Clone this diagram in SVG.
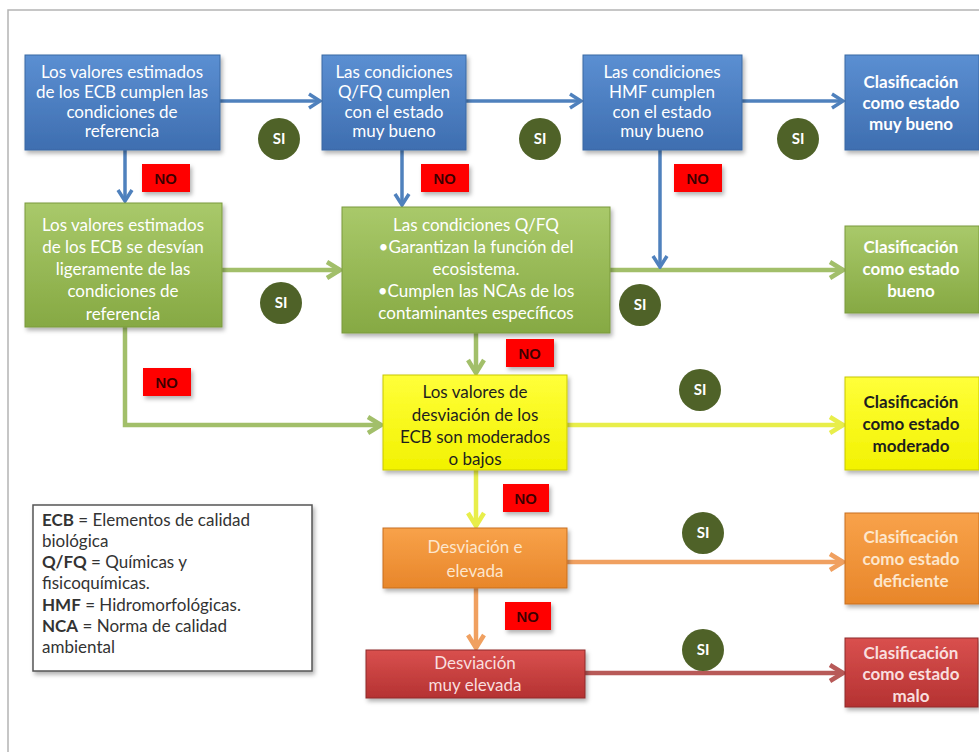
<svg xmlns="http://www.w3.org/2000/svg" width="979" height="752" viewBox="0 0 979 752">
<style>
.t{font-family:Lato,"Liberation Sans",sans-serif;font-size:17px;text-anchor:middle}
.w{fill:#ffffff}
.b{font-weight:bold}
.dk{fill:#1e1e1e}
.pe{fill:#fde6cc}
.pk{fill:#f9dede}
.si circle{fill:#4f6228}
.si text{font-family:Lato,"Liberation Sans",sans-serif;font-size:15px;font-weight:bold;fill:#ffffff;text-anchor:middle}
.no rect{fill:#ff0000}
.no text{font-family:"Liberation Sans",Arial,sans-serif;font-size:15px;font-weight:bold;fill:#3a0000;text-anchor:middle}
.lg{font-family:Lato,"Liberation Sans",sans-serif;font-size:17px;fill:#333333}
.cb{fill:none;stroke:#4f81bd;stroke-width:3.5}
.cg{fill:none;stroke:#a2bf6a;stroke-width:4.5}
.cy{fill:none;stroke:#e8ee4a;stroke-width:4.5}
.co{fill:none;stroke:#f0a060;stroke-width:4.5}
.cr{fill:none;stroke:#b85a58;stroke-width:4.5}
</style>
<defs>
<filter id="sh" x="-10%" y="-10%" width="130%" height="140%"><feDropShadow dx="2" dy="3" stdDeviation="2" flood-color="#000" flood-opacity="0.3"/></filter>
<linearGradient id="gB" x1="0" y1="0" x2="0" y2="1"><stop offset="0" stop-color="#5b8fd2"/><stop offset="1" stop-color="#3e6eb0"/></linearGradient>
<linearGradient id="gG" x1="0" y1="0" x2="0" y2="1"><stop offset="0" stop-color="#a9c96a"/><stop offset="1" stop-color="#86a943"/></linearGradient>
<linearGradient id="gY" x1="0" y1="0" x2="0" y2="1"><stop offset="0" stop-color="#ffff3a"/><stop offset="1" stop-color="#f2f200"/></linearGradient>
<linearGradient id="gO" x1="0" y1="0" x2="0" y2="1"><stop offset="0" stop-color="#f8a24a"/><stop offset="1" stop-color="#e8862a"/></linearGradient>
<linearGradient id="gR" x1="0" y1="0" x2="0" y2="1"><stop offset="0" stop-color="#d9504e"/><stop offset="1" stop-color="#b53232"/></linearGradient>
<marker id="mB" markerUnits="userSpaceOnUse" markerWidth="16" markerHeight="18" viewBox="0 0 16 18" refX="14" refY="9" orient="auto"><path d="M3,2 L14,9 L3,16" fill="none" stroke="#4f81bd" stroke-width="3.5"/></marker>
<marker id="mG" markerUnits="userSpaceOnUse" markerWidth="18" markerHeight="20" viewBox="0 0 18 20" refX="16" refY="10" orient="auto"><path d="M3,2 L16,10 L3,18" fill="none" stroke="#a2bf6a" stroke-width="4.5"/></marker>
<marker id="mY" markerUnits="userSpaceOnUse" markerWidth="18" markerHeight="20" viewBox="0 0 18 20" refX="16" refY="10" orient="auto"><path d="M3,2 L16,10 L3,18" fill="none" stroke="#e8ee4a" stroke-width="4.5"/></marker>
<marker id="mO" markerUnits="userSpaceOnUse" markerWidth="18" markerHeight="20" viewBox="0 0 18 20" refX="16" refY="10" orient="auto"><path d="M3,2 L16,10 L3,18" fill="none" stroke="#f0a060" stroke-width="4.5"/></marker>
<marker id="mR" markerUnits="userSpaceOnUse" markerWidth="18" markerHeight="20" viewBox="0 0 18 20" refX="16" refY="10" orient="auto"><path d="M3,2 L16,10 L3,18" fill="none" stroke="#b85a58" stroke-width="4.5"/></marker>
</defs>
<rect x="0" y="0" width="979" height="752" fill="#ffffff"/>
<path d="M8,752 V10 H979" fill="none" stroke="#b4b4b4" stroke-width="1.5"/>

<g id="connectors">
<path class="cb" d="M220,101 H320" marker-end="url(#mB)"/>
<path class="cb" d="M466,101 H581" marker-end="url(#mB)"/>
<path class="cb" d="M742,101 H843" marker-end="url(#mB)"/>
<path class="cb" d="M125,150 V201" marker-end="url(#mB)"/>
<path class="cb" d="M402,150 V205" marker-end="url(#mB)"/>
<path class="cg" d="M222,270 H340" marker-end="url(#mG)"/>
<path class="cg" d="M610,270 H843" marker-end="url(#mG)"/>
<path class="cb" d="M660,150 V267" marker-end="url(#mB)"/>
<path class="cg" d="M476,333 V373" marker-end="url(#mG)"/>
<path class="cg" d="M125,327 V425 H381" marker-end="url(#mG)"/>
<path class="cy" d="M567,425 H843" marker-end="url(#mY)"/>
<path class="cy" d="M476,470 V526" marker-end="url(#mY)"/>
<path class="co" d="M567,562 H843" marker-end="url(#mO)"/>
<path class="co" d="M476,588 V648" marker-end="url(#mO)"/>
<path class="cr" d="M585,673 H843" marker-end="url(#mR)"/>
</g>

<g id="n_ecb_ref">
<rect x="25" y="55" width="195" height="95" fill="url(#gB)" stroke="#3a68a4" filter="url(#sh)"/>
<text class="t w" x="122" y="78">Los valores estimados</text>
<text class="t w" x="122" y="98">de los ECB cumplen las</text>
<text class="t w" x="122" y="118">condiciones de</text>
<text class="t w" x="122" y="137">referencia</text>
</g>
<g id="n_qfq_mb">
<rect x="322" y="55" width="144" height="95" fill="url(#gB)" stroke="#3a68a4" filter="url(#sh)"/>
<text class="t w" x="394" y="78">Las condiciones</text>
<text class="t w" x="394" y="98">Q/FQ cumplen</text>
<text class="t w" x="394" y="118">con el estado</text>
<text class="t w" x="394" y="137">muy bueno</text>
</g>
<g id="n_hmf_mb">
<rect x="583" y="55" width="159" height="95" fill="url(#gB)" stroke="#3a68a4" filter="url(#sh)"/>
<text class="t w" x="662" y="78">Las condiciones</text>
<text class="t w" x="662" y="98">HMF cumplen</text>
<text class="t w" x="662" y="118">con el estado</text>
<text class="t w" x="662" y="137">muy bueno</text>
</g>
<g id="n_res_mb">
<rect x="845" y="55" width="134" height="95" fill="url(#gB)" stroke="#3a68a4" filter="url(#sh)"/>
<text class="t w b" x="911" y="88">Clasificación</text>
<text class="t w b" x="911" y="109">como estado</text>
<text class="t w b" x="911" y="130">muy bueno</text>
</g>

<g id="n_ecb_desv">
<rect x="25" y="203" width="197" height="124" fill="url(#gG)" stroke="#7a9a3c" filter="url(#sh)"/>
<text class="t w" x="123" y="231">Los valores estimados</text>
<text class="t w" x="123" y="253">de los ECB se desvían</text>
<text class="t w" x="123" y="275">ligeramente de las</text>
<text class="t w" x="123" y="297">condiciones de</text>
<text class="t w" x="123" y="320">referencia</text>
</g>
<g id="n_qfq_cond">
<rect x="342" y="207" width="268" height="126" fill="url(#gG)" stroke="#7a9a3c" filter="url(#sh)"/>
<text class="t w" x="476" y="231">Las condiciones Q/FQ</text>
<text class="t w" x="476" y="253">•Garantizan la función del</text>
<text class="t w" x="476" y="275">ecosistema.</text>
<text class="t w" x="476" y="297">•Cumplen las NCAs de los</text>
<text class="t w" x="476" y="319">contaminantes específicos</text>
</g>
<g id="n_res_bueno">
<rect x="845" y="226" width="134" height="87" fill="url(#gG)" stroke="#7a9a3c" filter="url(#sh)"/>
<text class="t w b" x="911" y="253">Clasificación</text>
<text class="t w b" x="911" y="275">como estado</text>
<text class="t w b" x="911" y="297">bueno</text>
</g>

<g id="n_moderado">
<rect x="383" y="375" width="184" height="95" fill="url(#gY)" stroke="#c8c800" filter="url(#sh)"/>
<text class="t dk" x="475" y="398">Los valores de</text>
<text class="t dk" x="475" y="421">desviación de los</text>
<text class="t dk" x="475" y="443">ECB son moderados</text>
<text class="t dk" x="475" y="465">o bajos</text>
</g>
<g id="n_res_moderado">
<rect x="845" y="377" width="134" height="93" fill="url(#gY)" stroke="#c8c800" filter="url(#sh)"/>
<text class="t dk b" x="911" y="408">Clasificación</text>
<text class="t dk b" x="911" y="430">como estado</text>
<text class="t dk b" x="911" y="452">moderado</text>
</g>

<g id="n_elevada">
<rect x="383" y="528" width="184" height="60" fill="url(#gO)" stroke="#c86e1e" filter="url(#sh)"/>
<text class="t pe" x="475" y="553">Desviación e</text>
<text class="t pe" x="475" y="577">elevada</text>
</g>
<g id="n_res_deficiente">
<rect x="845" y="513" width="134" height="91" fill="url(#gO)" stroke="#c86e1e" filter="url(#sh)"/>
<text class="t pe b" x="911" y="543">Clasificación</text>
<text class="t pe b" x="911" y="565">como estado</text>
<text class="t pe b" x="911" y="587">deficiente</text>
</g>

<g id="n_muy_elevada">
<rect x="366" y="650" width="219" height="48" fill="url(#gR)" stroke="#8e2a2a" filter="url(#sh)"/>
<text class="t pk" x="475" y="669">Desviación</text>
<text class="t pk" x="475" y="691">muy elevada</text>
</g>
<g id="n_res_malo">
<rect x="845" y="638" width="133" height="69" fill="url(#gR)" stroke="#8e2a2a" filter="url(#sh)"/>
<text class="t pk b" x="911" y="659">Clasificación</text>
<text class="t pk b" x="911" y="680">como estado</text>
<text class="t pk b" x="911" y="702">malo</text>
</g>

<g id="labels_si" class="si">
<g><circle cx="279" cy="139" r="21"/><text x="279" y="144">SI</text></g>
<g><circle cx="540" cy="139" r="21"/><text x="540" y="144">SI</text></g>
<g><circle cx="798" cy="139" r="21"/><text x="798" y="144">SI</text></g>
<g><circle cx="281" cy="303" r="21"/><text x="281" y="308">SI</text></g>
<g><circle cx="640" cy="305" r="21"/><text x="640" y="310">SI</text></g>
<g><circle cx="700" cy="390" r="21"/><text x="700" y="395">SI</text></g>
<g><circle cx="703" cy="533" r="21"/><text x="703" y="538">SI</text></g>
<g><circle cx="703" cy="650" r="21"/><text x="703" y="655">SI</text></g>
</g>

<g id="labels_no" class="no">
<g filter="url(#sh)"><rect x="142" y="164" width="48" height="28"/><text x="166" y="184">NO</text></g>
<g filter="url(#sh)"><rect x="421" y="164" width="48" height="28"/><text x="445" y="184">NO</text></g>
<g filter="url(#sh)"><rect x="674" y="164" width="48" height="28"/><text x="698" y="184">NO</text></g>
<g filter="url(#sh)"><rect x="506" y="339" width="48" height="28"/><text x="530" y="359">NO</text></g>
<g filter="url(#sh)"><rect x="143" y="368" width="48" height="28"/><text x="167" y="388">NO</text></g>
<g filter="url(#sh)"><rect x="503" y="484" width="46" height="28"/><text x="526" y="504">NO</text></g>
<g filter="url(#sh)"><rect x="505" y="602" width="46" height="28"/><text x="528" y="622">NO</text></g>
</g>

<g id="legend">
<rect x="33" y="505" width="279" height="166" fill="#ffffff" stroke="#555555" stroke-width="1.5" filter="url(#sh)"/>
<text class="lg" x="42" y="526"><tspan font-weight="bold">ECB</tspan> = Elementos de calidad</text>
<text class="lg" x="42" y="547">biológica</text>
<text class="lg" x="42" y="568"><tspan font-weight="bold">Q/FQ</tspan> = Químicas y</text>
<text class="lg" x="42" y="589">fisicoquímicas.</text>
<text class="lg" x="42" y="611"><tspan font-weight="bold">HMF</tspan> = Hidromorfológicas.</text>
<text class="lg" x="42" y="632"><tspan font-weight="bold">NCA</tspan> = Norma de calidad</text>
<text class="lg" x="42" y="653">ambiental</text>
</g>
</svg>
